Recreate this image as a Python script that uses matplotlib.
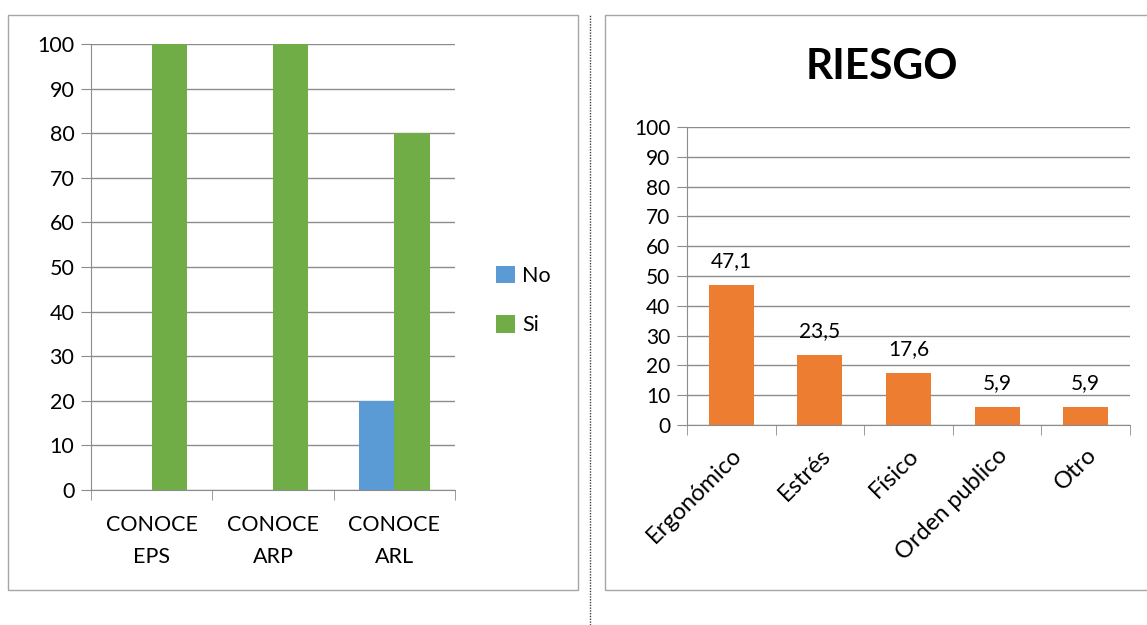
import numpy as np
import matplotlib.pyplot as plt
from matplotlib.patches import Rectangle
from matplotlib.lines import Line2D

plt.rcParams['font.family'] = ['Lato', 'DejaVu Sans']

# left chart: knowledge of EPS / ARP / ARL
conoce_labels = ["CONOCE\nEPS", "CONOCE\nARP", "CONOCE\nARL"]
no_vals = [0, 0, 20]
si_vals = [100, 100, 80]

# right chart: type of risk
riesgo_labels = ["Ergonómico", "Estrés", "Físico", "Orden publico", "Otro"]
riesgo_vals = [47.1, 23.5, 17.6, 5.9, 5.9]

blue = '#5B9BD5'
green = '#70AD47'
orange = '#ED7D31'
grid_c = '#8C8C8C'

W, H = 1147, 625
fig = plt.figure(figsize=(W / 100, H / 100), dpi=100)

def px_box(x0, y0, x1, y1):
    # pixel corners (from top-left) -> figure fraction rect
    return [x0 / W, 1 - y1 / H, (x1 - x0) / W, (y1 - y0) / H]

# chart borders and the dotted separator
for box in (px_box(8, 15, 578, 590), px_box(605, 15, 1160, 590)):
    fig.patches.append(Rectangle((box[0], box[1]), box[2], box[3],
                                 transform=fig.transFigure, fill=False,
                                 edgecolor='#A6A6A6', linewidth=1.0))
fig.lines.append(Line2D([590 / W, 590 / W], [0, 1 - 15 / H],
                        transform=fig.transFigure, color='#404040',
                        linestyle=(0, (1, 1)), linewidth=1.0))

def style_axes(ax, n, fs):
    ax.set_xlim(0, n)
    ax.set_ylim(0, 100)
    ax.set_yticks(np.arange(0, 101, 10))
    ax.yaxis.grid(True, color=grid_c, linewidth=1.0)
    ax.set_axisbelow(True)
    for s in ('top', 'right'):
        ax.spines[s].set_visible(False)
    for s in ('left', 'bottom'):
        ax.spines[s].set_color(grid_c)
    ax.tick_params(axis='y', length=7, color=grid_c, labelsize=fs, pad=5)
    ax.set_xticks(np.arange(n) + 0.5)
    ax.set_xticks(np.arange(n + 1), minor=True)
    ax.tick_params(axis='x', which='major', length=0)
    ax.tick_params(axis='x', which='minor', length=7, color=grid_c)

# ---- left chart ----
ax1 = fig.add_axes(px_box(91, 44, 455, 490))
style_axes(ax1, 3, 15.5)
x = np.arange(3) + 0.5
bw = 0.29
ax1.bar(x - bw / 2, no_vals, bw, color=blue, label='No')
ax1.bar(x + bw / 2, si_vals, bw, color=green, label='Si')
ax1.set_xticklabels(conoce_labels, fontsize=15.5, linespacing=1.75)
ax1.tick_params(axis='x', which='major', pad=18)
ax1.legend(loc='center left', bbox_to_anchor=(1.06, 0.424), frameon=False,
           fontsize=15.5, handlelength=0.85, handleheight=0.85,
           handletextpad=0.35, labelspacing=1.35)

# ---- right chart ----
ax2 = fig.add_axes(px_box(687, 127, 1130, 425))
style_axes(ax2, 5, 15)
x2 = np.arange(5) + 0.5
bars = ax2.bar(x2, riesgo_vals, 0.51, color=orange)
for b, v in zip(bars, riesgo_vals):
    ax2.annotate(f"{v:.1f}".replace('.', ','),
                 (b.get_x() + b.get_width() / 2, v),
                 xytext=(0, 10), textcoords='offset points',
                 ha='center', va='bottom', fontsize=15)
ax2.set_xticklabels(riesgo_labels, fontsize=17, rotation=45,
                    ha='right', rotation_mode='anchor')
ax2.tick_params(axis='x', which='major', pad=14)
fig.text(882 / W, 1 - 67 / H, "RIESGO", fontsize=30.5, fontweight='bold',
         ha='center', va='center')

fig.savefig('out.png', dpi=100, facecolor='white')
